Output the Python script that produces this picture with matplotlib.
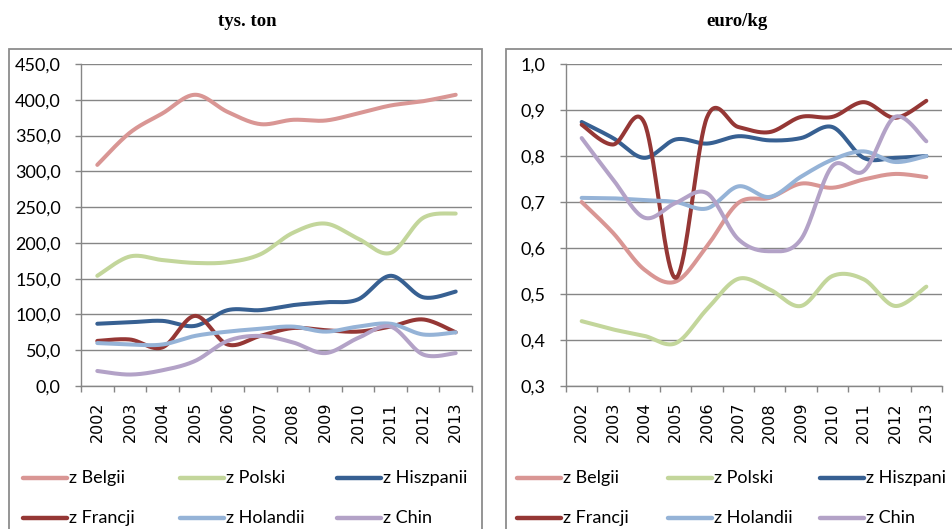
import numpy as np
import matplotlib
matplotlib.use("Agg")
import matplotlib.pyplot as plt
from matplotlib.lines import Line2D
from matplotlib.patches import Rectangle
from matplotlib.ticker import FixedLocator, FuncFormatter

# data
years = ["2002", "2003", "2004", "2005", "2006", "2007",
         "2008", "2009", "2010", "2011", "2012", "2013"]
labels = ["z Belgii", "z Polski", "z Hiszpanii", "z Francji", "z Holandii", "z Chin"]
labels_right = ["z Belgii", "z Polski", "z Hiszpani", "z Francji", "z Holandii", "z Chin"]
colors = ["#D99694", "#C3D69B", "#376092", "#953735", "#95B3D7", "#B3A2C7"]

# tys. ton
vol_belgia = [309, 354, 381, 407, 383, 366, 372, 371, 381, 392, 398, 407]
vol_polska = [154, 181, 176, 172, 173, 184, 214, 227, 206, 186, 235, 241]
vol_hiszpania = [87, 89, 91, 84, 106, 106, 113, 117, 121, 154, 124, 132]
vol_francja = [63, 65, 54, 98, 58, 70, 81, 78, 76, 83, 93, 75]
vol_holandia = [60, 58, 58, 70, 76, 80, 83, 76, 83, 87, 72, 75]
vol_chiny = [21, 16, 22, 35, 63, 70, 61, 46, 67, 83, 44, 46]

# euro/kg
price_belgia = [0.700, 0.633, 0.553, 0.527, 0.604, 0.698, 0.709, 0.740, 0.731, 0.749, 0.761, 0.754]
price_polska = [0.441, 0.423, 0.409, 0.393, 0.467, 0.533, 0.510, 0.474, 0.539, 0.532, 0.474, 0.516]
price_hiszpania = [0.874, 0.839, 0.796, 0.836, 0.827, 0.843, 0.834, 0.839, 0.863, 0.796, 0.796, 0.800]
price_francja = [0.868, 0.825, 0.872, 0.535, 0.884, 0.863, 0.852, 0.885, 0.885, 0.917, 0.883, 0.920]
price_holandia = [0.709, 0.708, 0.704, 0.700, 0.686, 0.734, 0.711, 0.755, 0.792, 0.810, 0.787, 0.800]
price_chiny = [0.839, 0.749, 0.666, 0.698, 0.719, 0.619, 0.593, 0.619, 0.778, 0.767, 0.885, 0.832]

volumes = [vol_belgia, vol_polska, vol_hiszpania, vol_francja, vol_holandia, vol_chiny]
prices = [price_belgia, price_polska, price_hiszpania, price_francja, price_holandia, price_chiny]

W, H = 953, 529
GRAY = "#868686"
TICK_FONT = "Lato"


def smooth(x, y, n=40):
    # excel-like smoothed line (catmull-rom as cubic bezier)
    P = np.column_stack([x, y]).astype(float)
    P = np.vstack([P[0], P, P[-1]])
    t = np.linspace(0, 1, n)[:, None]
    out = []
    for i in range(1, len(P) - 2):
        p0, p1, p2, p3 = P[i - 1], P[i], P[i + 1], P[i + 2]
        c1 = p1 + (p2 - p0) / 6
        c2 = p2 - (p3 - p1) / 6
        seg = (1 - t)**3 * p1 + 3 * (1 - t)**2 * t * c1 + 3 * (1 - t) * t**2 * c2 + t**3 * p2
        out.append(seg)
    out = np.vstack(out)
    return out[:, 0], out[:, 1]


def px(x0, y0, x1, y1):
    # pixel box -> figure fraction rect
    return [x0 / W, 1 - y1 / H, (x1 - x0) / W, (y1 - y0) / H]


fig = plt.figure(figsize=(W / 100, H / 100), dpi=100)

# panel frames
for (fx0, fx1) in [(9, 482), (506, 970)]:
    fig.add_artist(Rectangle((fx0 / W, -0.2), (fx1 - fx0) / W, 0.2 + 1 - 49 / H,
                             transform=fig.transFigure, fill=False,
                             edgecolor="#8c8c8c", lw=1.3))

panels = [
    dict(rect=px(81, 64, 472, 386), data=volumes, ylim=(0, 450), step=50,
         fmt=lambda v, p: f"{v:.1f}".replace(".", ","), title="tys. ton", tx=247,
         labels=labels, leg_x=[23, 180, 337]),
    dict(rect=px(566, 64, 942, 386), data=prices, ylim=(0.3, 1.0), step=0.1,
         fmt=lambda v, p: f"{v:.1f}".replace(".", ","), title="euro/kg", tx=737,
         labels=labels_right, leg_x=[517, 668, 820]),
]

x = np.arange(len(years))
for pn in panels:
    ax = fig.add_axes(pn["rect"])
    for vals, c in zip(pn["data"], colors):
        sx, sy = smooth(x, vals)
        ax.plot(sx, sy, color=c, lw=2.9, solid_capstyle="round", zorder=3)
    lo, hi = pn["ylim"]
    ax.set_ylim(lo, hi)
    ax.set_xlim(-0.5, len(years) - 0.5)
    ax.yaxis.set_major_locator(FixedLocator(np.arange(lo, hi + pn["step"] / 2, pn["step"])))
    ax.yaxis.set_major_formatter(FuncFormatter(pn["fmt"]))
    ax.grid(axis="y", color=GRAY, lw=1.0)
    ax.set_axisbelow(True)
    for s in ["top", "right"]:
        ax.spines[s].set_visible(False)
    for s in ["left", "bottom"]:
        ax.spines[s].set_color(GRAY)
        ax.spines[s].set_linewidth(1.0)
    ax.tick_params(axis="y", length=4.5, color=GRAY, width=1.0, pad=10,
                   labelsize=13, labelcolor="black")
    for lab in ax.get_yticklabels():
        lab.set_fontfamily(TICK_FONT)
    ax.set_xticks(x)
    ax.set_xticklabels(years, rotation=90, fontsize=11.5, fontfamily="DejaVu Sans")
    ax.set_xticks(np.arange(-0.5, len(years)), minor=True)
    ax.tick_params(axis="x", which="major", length=0, pad=11.5)
    ax.tick_params(axis="x", which="minor", length=4.5, color=GRAY, width=1.0)

    fig.text(pn["tx"] / W, 1 - 22 / H, pn["title"], ha="center", va="center",
             fontsize=13.5, fontweight="bold", fontfamily="Liberation Serif")

    # legend, 3 columns x 2 rows
    for i, (lab, c) in enumerate(zip(pn["labels"], colors)):
        col, row = i % 3, i // 3
        lx = pn["leg_x"][col]
        ly = 1 - (478 + row * 40) / H
        fig.add_artist(Line2D([lx / W, (lx + 44) / W], [ly, ly], transform=fig.transFigure,
                              color=c, lw=3.2, solid_capstyle="round"))
        fig.text((lx + 46) / W, ly, lab, ha="left", va="center", fontsize=13,
                 fontfamily=TICK_FONT)

fig.savefig("out.png", dpi=100)
